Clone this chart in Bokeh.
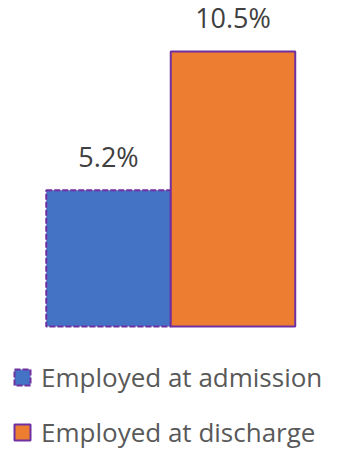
from bokeh.plotting import figure
from bokeh.models import ColumnDataSource, Range1d, Legend, LegendItem
from bokeh.core.properties import value
from bokeh.embed import file_html
from bokeh.resources import INLINE

categories = ["Employed at admission", "Employed at discharge"]
values = [5.2, 10.5]
labels = ["5.2%", "10.5%"]
fills = ["#4472C4", "#ED7D31"]
dashes = ["6 2", "solid"]

p = figure(width=343, height=451, output_backend="svg", toolbar_location=None,
           x_range=Range1d(-0.8675, 1.8876), y_range=Range1d(-4.773, 12.447),
           min_border=0, min_border_left=0, min_border_right=0,
           min_border_top=0, min_border_bottom=0)
p.axis.visible = False
p.xgrid.visible = False
p.ygrid.visible = False
p.outline_line_color = None
p.background_fill_color = "white"
p.border_fill_color = "white"

items = []
for i, (cat, v, lab) in enumerate(zip(categories, values, labels)):
    src = ColumnDataSource(dict(x=[i], top=[v], label=[lab]))
    r = p.vbar(x="x", top="top", bottom=0, width=1, source=src,
               fill_color=fills[i], line_color="#7030A0", line_width=2,
               line_dash=dashes[i])
    p.text(x="x", y="top", text="label", source=src, text_align="center",
           text_baseline="alphabetic", y_offset=-34,
           text_font=value("Open Sans"), text_font_size="27px",
           text_color="#404040")
    items.append(LegendItem(label=cat, renderers=[r]))

legend = Legend(items=items, location=(12, 1), orientation="vertical",
                glyph_width=20, glyph_height=20, label_standoff=9,
                spacing=19, padding=0, margin=0,
                border_line_color=None, background_fill_alpha=0,
                label_text_font="Open Sans", label_text_font_size="26px",
                label_text_color="#595959")
p.add_layout(legend, "center")

open("out.html", "w").write(file_html(p, INLINE))
